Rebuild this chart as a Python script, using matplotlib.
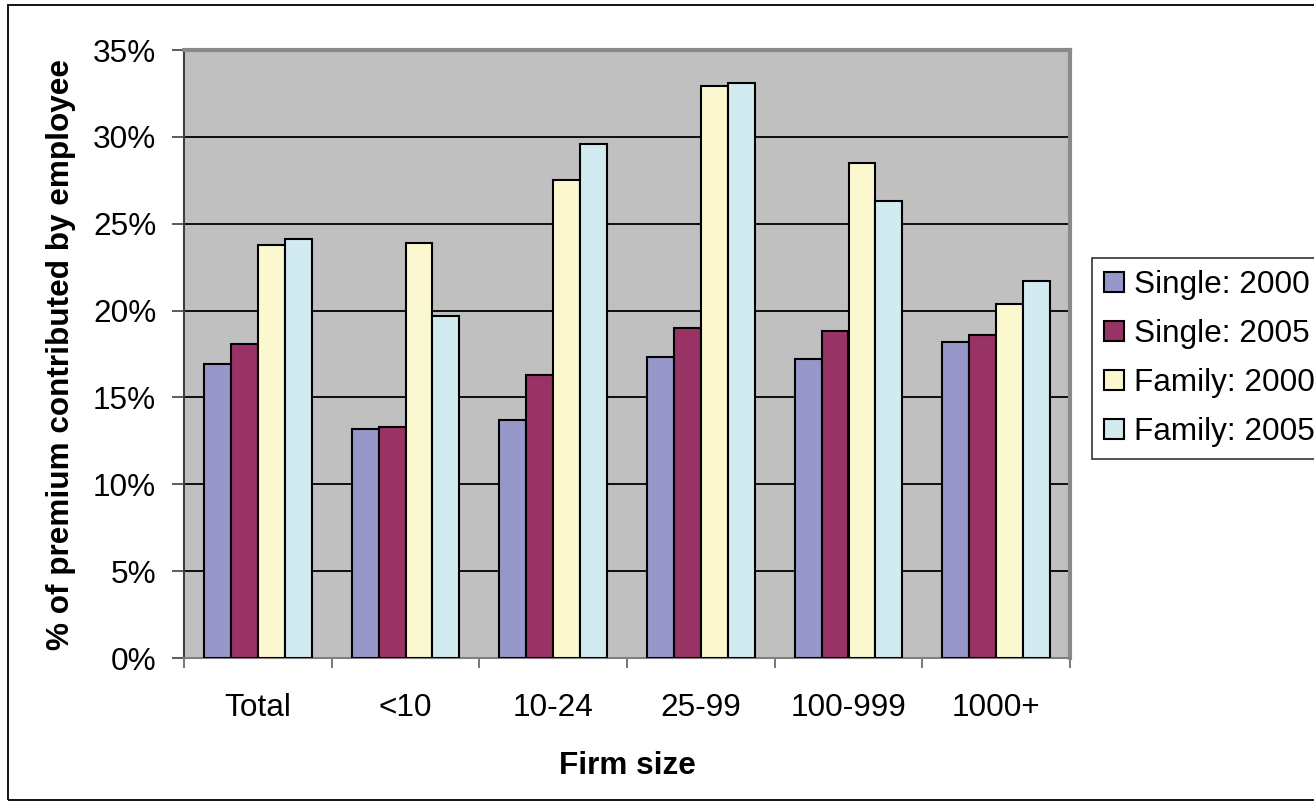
import matplotlib
matplotlib.use("Agg")
import matplotlib.pyplot as plt
import numpy as np
from matplotlib.patches import Rectangle
from matplotlib.ticker import FixedLocator, FuncFormatter

plt.rcParams['font.family'] = ['Liberation Sans', 'DejaVu Sans']

# Employee share of premium by firm size
categories = ["Total", "<10", "10-24", "25-99", "100-999", "1000+"]
single_2000 = [16.9, 13.2, 13.7, 17.3, 17.2, 18.2]
single_2005 = [18.1, 13.3, 16.3, 19.0, 18.8, 18.6]
family_2000 = [23.8, 23.9, 27.5, 32.9, 28.5, 20.4]
family_2005 = [24.1, 19.7, 29.6, 33.1, 26.3, 21.7]

series = [
    ("Single: 2000", single_2000, "#9797C9"),
    ("Single: 2005", single_2005, "#993366"),
    ("Family: 2000", family_2000, "#FBF8D0"),
    ("Family: 2005", family_2005, "#D2EBF1"),
]

FS = 22.7
W, H = 1314, 805
fig = plt.figure(figsize=(W / 100, H / 100), dpi=100)
fig.patch.set_facecolor("white")

# outer chart frame
fig.patches.append(Rectangle((8 / W, 1 - 800 / H), (W + 10 - 8) / W, (800 - 5) / H,
                             transform=fig.transFigure, fill=False,
                             edgecolor="black", linewidth=1.3, clip_on=False))

ax = fig.add_axes([184 / W, 1 - 658 / H, (1070 - 184) / W, (658 - 50) / H])
ax.set_facecolor("#C0C0C0")

x = np.arange(len(categories))
bw = 0.182
for i, (name, vals, col) in enumerate(series):
    ax.bar(x + (i - 1.5) * bw, vals, width=bw, color=col, edgecolor="black",
           linewidth=1.5, label=name, zorder=3)

ax.set_xlim(-0.5, len(categories) - 0.5)
ax.set_ylim(0, 35)
ax.set_yticks(np.arange(0, 36, 5))
ax.yaxis.set_major_formatter(FuncFormatter(lambda v, p: f"{int(v)}%"))
ax.yaxis.grid(True, color="black", linewidth=1.3, zorder=1)
ax.set_axisbelow(True)

ax.set_xticks(x)
ax.set_xticklabels(categories)
ax.xaxis.set_minor_locator(FixedLocator(np.arange(-0.5, len(categories), 1.0)))
ax.tick_params(axis="x", which="major", length=0, pad=25, labelsize=FS)
ax.tick_params(axis="x", which="minor", length=7, width=1.2, color="#606060")
ax.tick_params(axis="y", which="major", length=9, width=1.2, color="#404040",
               pad=11, labelsize=FS)

for side in ["top", "right"]:
    ax.spines[side].set_color("#8A8A8A")
    ax.spines[side].set_linewidth(3)
ax.spines["left"].set_color("#404040")
ax.spines["left"].set_linewidth(1.5)
ax.spines["bottom"].set_color("#808080")
ax.spines["bottom"].set_linewidth(1.5)

ax.set_xlabel("Firm size", fontsize=FS, fontweight="bold", labelpad=20)
ax.set_ylabel("% of premium contributed by employee", fontsize=FS,
              fontweight="bold", labelpad=12)

leg = fig.legend(loc="upper left", bbox_to_anchor=(1092 / W, 1 - 258 / H),
                 fontsize=FS, frameon=True, fancybox=False,
                 handlelength=0.62, handleheight=0.6, handletextpad=0.33,
                 borderpad=0.38, labelspacing=0.6, borderaxespad=0)
leg.get_frame().set_edgecolor("black")
leg.get_frame().set_linewidth(1.2)

fig.savefig("out.png", dpi=100)
